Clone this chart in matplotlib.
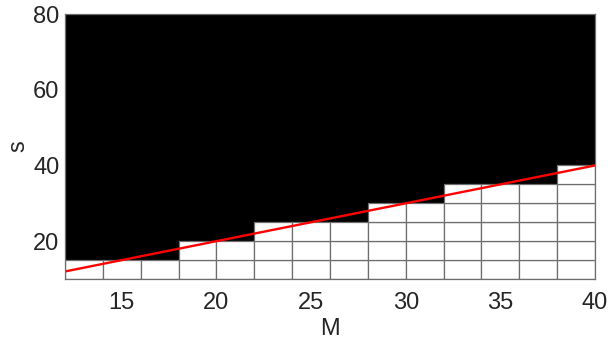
import numpy as np
import matplotlib.pyplot as plt

plt.rcParams['font.family'] = ['Liberation Sans', 'DejaVu Sans']

# column edges in M and the feasible s limit of each column
m_left = [12, 14, 16, 18, 20, 22, 24, 26, 28, 30, 32, 34, 36, 38]
s_limit = [15, 15, 15, 20, 20, 25, 25, 25, 30, 30, 35, 35, 35, 40]
s_rows = [10, 15, 20, 25, 30, 35]
cell_w = 2
cell_h = 5

line_m = [12, 40]
line_s = [12, 40]

fig = plt.figure(figsize=(6.10, 3.46), dpi=100)
ax = fig.add_axes([0.1066, 0.1936, 0.8689, 0.7659])

# infeasible region above the limit
heights = [80 - s for s in s_limit]
ax.bar(m_left, heights, bottom=s_limit, width=cell_w, align='edge',
       color='black', edgecolor='none', zorder=1)

# white grid cells below the limit
for m, lim in zip(m_left, s_limit):
    for s0 in s_rows:
        if s0 + cell_h <= lim:
            ax.bar(m, cell_h, bottom=s0, width=cell_w, align='edge',
                   color='white', edgecolor='#6e6e6e', linewidth=0.9, zorder=2)

ax.plot(line_m, line_s, color='red', linewidth=1.7, zorder=3)

ax.set_xlim(12, 40)
ax.set_ylim(10, 80)
ax.set_xticks([15, 20, 25, 30, 35, 40])
ax.set_yticks([20, 40, 60, 80])
ax.tick_params(length=0, labelsize=17, colors='#262626')
ax.tick_params(axis='x', pad=9)
ax.tick_params(axis='y', pad=4)
for sp in ax.spines.values():
    sp.set_color('#6e6e6e')
    sp.set_linewidth(0.9)
    sp.set_zorder(4)

ax.set_xlabel('M', fontsize=17, color='#262626', labelpad=3)
ax.set_ylabel('s', fontsize=17, color='#262626', labelpad=3)

fig.savefig('out.png', dpi=100)
